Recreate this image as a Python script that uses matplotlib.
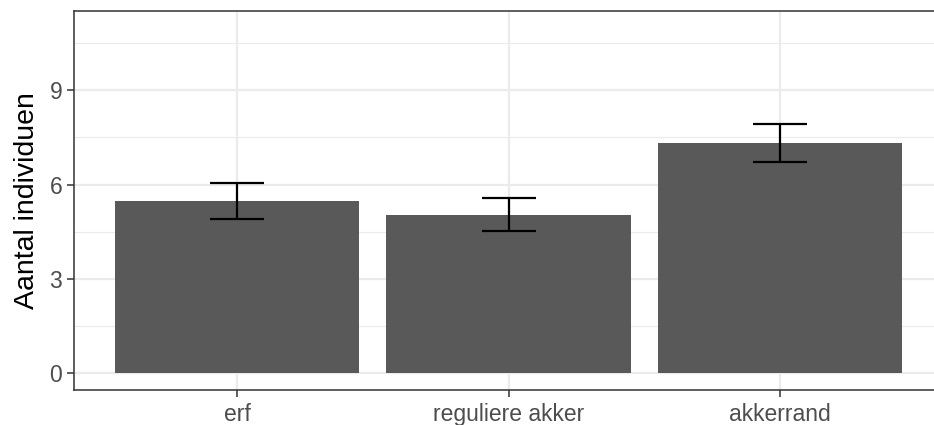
import matplotlib
matplotlib.use("Agg")
import matplotlib.pyplot as plt
import numpy as np

categories = ["erf", "reguliere akker", "akkerrand"]
means = [5.48, 5.04, 7.33]
lower = [4.92, 4.53, 6.72]
upper = [6.04, 5.58, 7.94]
yticks = [0, 3, 6, 9]

plt.rcParams['font.family'] = ['Liberation Sans', 'DejaVu Sans']

fig = plt.figure(figsize=(9.34, 4.25), dpi=100)
ax = fig.add_axes([74/934, (425-389.5)/425, (943-74)/934, (389.5-11)/425])

x = np.arange(1, len(categories) + 1)
ax.set_facecolor("white")
ax.set_xlim(0.4, 3.6)
ax.set_ylim(-0.515, 11.52)

# grid
for yv in [1.5, 4.5, 7.5, 10.5]:
    ax.axhline(yv, color="#EBEBEB", lw=0.8, zorder=0)
for yv in yticks:
    ax.axhline(yv, color="#EBEBEB", lw=1.6, zorder=0)
for xv in x:
    ax.axvline(xv, color="#EBEBEB", lw=1.6, zorder=0)

ax.bar(x, means, width=0.9, color="#595959", zorder=2)
m = np.array(means)
ax.errorbar(x, m, yerr=[m - np.array(lower), np.array(upper) - m], fmt="none",
            ecolor="black", elinewidth=1.6, capsize=19.5, capthick=1.6, zorder=3)

ax.set_xticks(x)
ax.set_xticklabels(categories)
ax.set_yticks(yticks)
ax.tick_params(axis="both", colors="#333333", length=5, width=1.1,
               labelcolor="#4D4D4D", labelsize=16.5, pad=3.5)
ax.tick_params(axis="x", pad=5)
ax.set_ylabel("Aantal individuen", fontsize=20.5, color="black", labelpad=7)

for s in ax.spines.values():
    s.set_color("#333333")
    s.set_linewidth(1.1)
    s.set_zorder(4)

fig.savefig("out.png", dpi=100)
